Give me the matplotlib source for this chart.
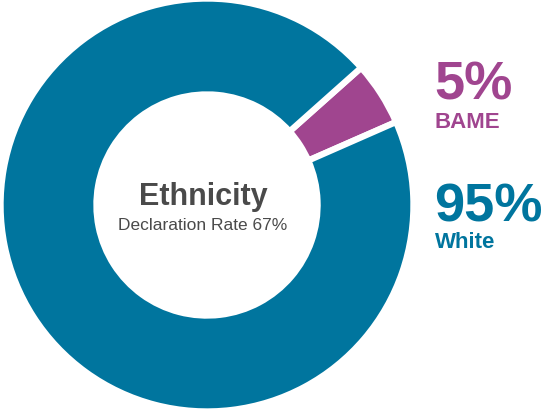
import matplotlib.pyplot as plt

plt.rcParams['font.family'] = ['Liberation Sans', 'DejaVu Sans']

labels = ['BAME', 'White']
values = [5, 95]
pcts = ['5%', '95%']
colors = ['#A0458F', '#00759E']
title = 'Ethnicity'
subtitle = 'Declaration Rate 67%'

W, H = 547, 412
fig = plt.figure(figsize=(W / 100, H / 100), dpi=100)
# donut centre ~(207, 207) px, outer radius ~204 px
ax = fig.add_axes([3 / W, 3 / H, 408 / W, 408 / H])
ax.pie(values, colors=colors, startangle=23.7, counterclock=True, radius=1.012,
       wedgeprops=dict(width=0.47, edgecolor='white', linewidth=4.5))
ax.set_xlim(-1.0, 1.0)
ax.set_ylim(-1.0, 1.0)
ax.set_aspect('equal')
ax.axis('off')


def px(x, y):
    return x / W, 1 - y / H


# centre text
fig.text(*px(203, 205), title, ha='center', va='baseline',
         fontsize=22, fontweight='bold', color='#4a4a4a')
fig.text(*px(203, 230), subtitle, ha='center', va='baseline',
         fontsize=12.5, color='#4a4a4a')

# side labels
fig.text(*px(434, 99), pcts[0], ha='left', va='baseline',
         fontsize=39, fontweight='bold', color=colors[0])
fig.text(*px(435, 128), labels[0], ha='left', va='baseline',
         fontsize=16, fontweight='bold', color=colors[0])
fig.text(*px(434, 222), pcts[1], ha='left', va='baseline',
         fontsize=39, fontweight='bold', color=colors[1])
fig.text(*px(435, 248), labels[1], ha='left', va='baseline',
         fontsize=16, fontweight='bold', color=colors[1])

fig.savefig('out.png', dpi=100)
